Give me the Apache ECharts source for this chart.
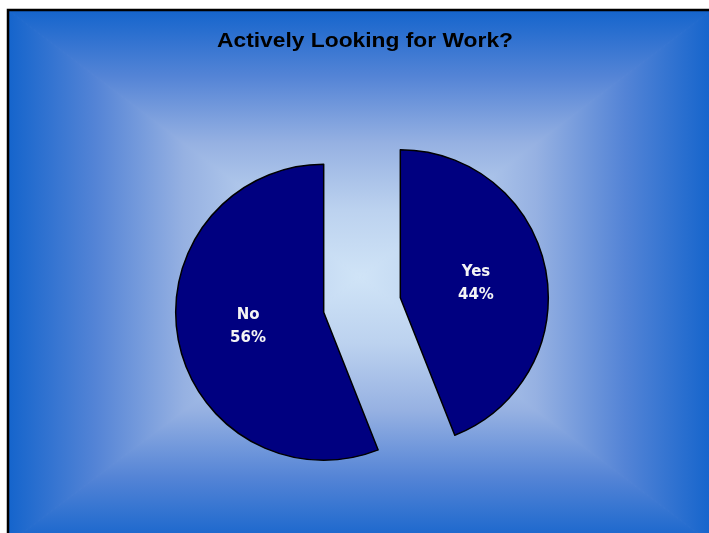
<!DOCTYPE html>
<html>
<head>
<meta charset="utf-8">
<title>Actively Looking for Work?</title>
<script src="https://cdn.jsdelivr.net/npm/echarts@6/dist/echarts.min.js"></script>
<style>
  html, body { margin: 0; padding: 0; background: #fff; }
  #main { width: 709px; height: 533px; }
</style>
</head>
<body>
<div id="main"></div>
<script>
// data
var categories = ['Yes', 'No'];
var values = [44, 56];
var chartTitle = 'Actively Looking for Work?';

// frame of the original chart area (runs past the window on right/bottom)
var L = 8, T = 10, R = 712, B = 544, CX = 360, CY = 277;

function grad(x, y, x2, y2) {
    return {
        type: 'linear', x: x, y: y, x2: x2, y2: y2,
        colorStops: [
            { offset: 0, color: '#1464cc' },
            { offset: 0.25, color: '#5484d6' },
            { offset: 0.5, color: '#96b1e2' },
            { offset: 0.75, color: '#bcd2ef' },
            { offset: 1, color: '#d0e4f7' }
        ]
    };
}

// one triangle of the rectangular "from centre" fill
function tri(points, g) {
    return {
        type: 'polygon', z: -9,
        shape: { points: points },
        style: { fill: g, stroke: g, lineWidth: 1 }
    };
}

var myChart = echarts.init(document.getElementById('main'), null, { renderer: 'canvas' });

var pieData = categories.map(function (c, i) {
    return { name: c, value: values[i], selected: true };
});

var option = {
    animation: false,
    backgroundColor: '#ffffff',
    graphic: [
        { type: 'rect', z: -10, shape: { x: L, y: T, width: R - L, height: B - T }, style: { fill: '#96b1e2' } },
        tri([[L, T], [R, T], [CX, CY]], grad(0, 0, 0, 1)),
        tri([[L, B], [R, B], [CX, CY]], grad(0, 1, 0, 0)),
        tri([[L, T], [L, B], [CX, CY]], grad(0, 0, 1, 0)),
        tri([[R, T], [R, B], [CX, CY]], grad(1, 0, 0, 0)),
        { type: 'rect', z: -8, shape: { x: L, y: T, width: R - L, height: B - T }, style: { fill: null, stroke: '#000', lineWidth: 2.5 } },
        {
            type: 'text', z: 10,
            x: 365, y: 41,
            scaleX: 1.14,
            style: {
                text: chartTitle,
                align: 'center',
                verticalAlign: 'middle',
                font: 'bold 20px "Liberation Sans", Arial, sans-serif',
                fill: '#000'
            }
        }
    ],
    series: [{
        type: 'pie',
        center: [362, 305],
        radius: 148,
        startAngle: 90,
        clockwise: true,
        selectedMode: 'multiple',
        selectedOffset: 39,
        avoidLabelOverlap: false,
        itemStyle: { color: '#000080', borderColor: '#000', borderWidth: 1.5 },
        select: { itemStyle: { color: '#000080', borderColor: '#000', borderWidth: 1.5 } },
        emphasis: { disabled: true },
        label: {
            show: true,
            position: 'inside',
            formatter: '{b}\n{d}%',
            color: '#f4f4f4',
            fontFamily: 'DejaVu Sans, Verdana, sans-serif',
            fontWeight: 'bold',
            fontSize: 15,
            lineHeight: 23
        },
        labelLine: { show: false },
        data: pieData
    }]
};

myChart.setOption(option);
</script>
</body>
</html>
